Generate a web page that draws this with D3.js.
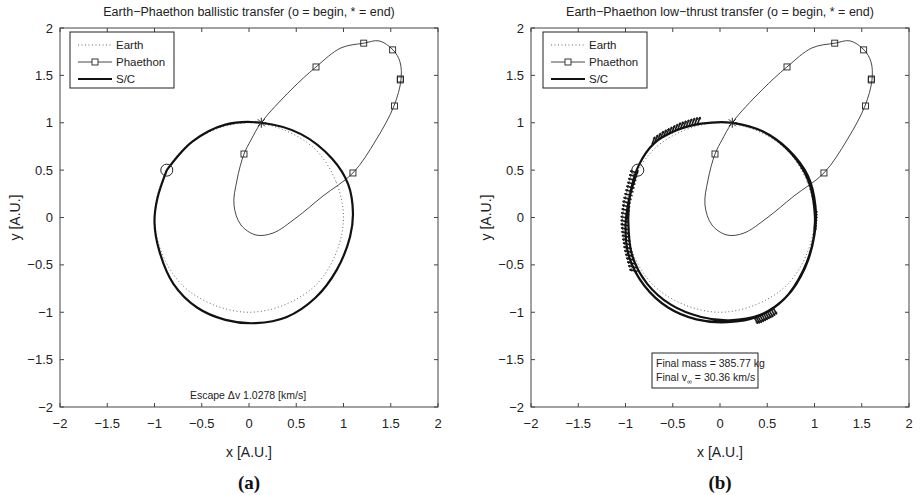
<!DOCTYPE html>
<html>
<head>
<meta charset="utf-8">
<script src="https://cdn.jsdelivr.net/npm/d3@7"></script>
<style>
  body { margin: 0; background: #fff; }
  svg text { font-family: "Liberation Sans", Arial, sans-serif; fill: #222; }
</style>
</head>
<body>
<svg id="chart" width="920" height="495"></svg>
<script>
// ---- data (A.U.) ----
var ticks = [-2, -1.5, -1, -0.5, 0, 0.5, 1, 1.5, 2];

// Earth orbit (dotted)
var earth = [[1, 0], [0.92, 0.38], [0.71, 0.71], [0.38, 0.92], [0, 1], [-0.38, 0.92], [-0.71, 0.71],
  [-0.92, 0.38], [-1, 0], [-0.92, -0.38], [-0.71, -0.71], [-0.38, -0.92], [0, -1], [0.38, -0.92],
  [0.71, -0.71], [0.92, -0.38]];

// Phaethon orbit
var phaethon = [[0.127, 0.998], [0.021, 0.818], [-0.053, 0.67], [-0.127, 0.396], [-0.159, 0.132],
  [-0.085, -0.079], [0.074, -0.185], [0.254, -0.164], [0.497, -0.005], [0.783, 0.227], [1.1, 0.47],
  [1.344, 0.818], [1.534, 1.177], [1.608, 1.452], [1.598, 1.642], [1.524, 1.769], [1.376, 1.864],
  [1.217, 1.84], [0.974, 1.79], [0.709, 1.589], [0.444, 1.346]];
var phaethonMarks = [[-0.053, 0.67], [0.709, 1.589], [1.214, 1.84], [1.52, 1.769], [1.6, 1.452],
  [1.603, 1.462], [1.54, 1.177], [1.1, 0.47]];

// spacecraft, ballistic case
var scBallistic = [[-0.87, 0.5], [-0.97, 0.2], [-1.0, -0.05], [-0.95, -0.35], [-0.8, -0.7], [-0.55, -0.95],
  [-0.25, -1.08], [0.07, -1.115], [0.4, -1.05], [0.7, -0.85], [0.93, -0.55], [1.07, -0.2], [1.1, 0.05],
  [1.05, 0.35], [0.88, 0.62], [0.55, 0.88], [0.13, 1.0], [-0.25, 0.98], [-0.6, 0.8], [-0.87, 0.5]];

// spacecraft, low-thrust case (two revolutions)
var scThrust = [[-0.87, 0.5], [-0.96, 0.2], [-1.0, -0.1], [-0.96, -0.42], [-0.8, -0.72], [-0.55, -0.95],
  [-0.25, -1.075], [0.08, -1.105], [0.4, -1.045], [0.68, -0.86], [0.88, -0.56], [0.99, -0.22],
  [1.0, 0.08], [0.93, 0.4], [0.75, 0.68], [0.47, 0.9], [0.13, 1.0], [-0.2, 0.99], [-0.46, 0.92],
  [-0.7, 0.78], [-0.86, 0.55], [-0.95, 0.25], [-0.97, -0.05], [-0.93, -0.4], [-0.77, -0.7], [-0.52, -0.92],
  [-0.2, -1.05], [0.1, -1.085], [0.42, -1.03], [0.7, -0.84], [0.9, -0.53], [1.0, -0.18], [1.01, 0.12],
  [0.93, 0.44], [0.72, 0.72], [0.45, 0.91], [0.13, 1.0]];

// thrust arcs: base points and arrow vector
var thrustTop = [[-0.72, 0.77], [-0.69, 0.79], [-0.66, 0.81], [-0.63, 0.83], [-0.6, 0.845], [-0.57, 0.86],
  [-0.54, 0.875], [-0.51, 0.89], [-0.48, 0.905], [-0.45, 0.92], [-0.42, 0.93], [-0.39, 0.94],
  [-0.36, 0.95], [-0.33, 0.96], [-0.3, 0.968], [-0.27, 0.975], [-0.24, 0.98]];
var thrustLeft = [[-0.865, 0.47], [-0.875, 0.43], [-0.885, 0.39], [-0.895, 0.35], [-0.905, 0.31],
  [-0.915, 0.27], [-0.925, 0.23], [-0.935, 0.19], [-0.945, 0.15], [-0.95, 0.11], [-0.955, 0.07],
  [-0.96, 0.03], [-0.965, -0.01], [-0.965, -0.05], [-0.965, -0.09], [-0.962, -0.13], [-0.958, -0.17],
  [-0.953, -0.21], [-0.948, -0.25], [-0.942, -0.29], [-0.935, -0.33], [-0.927, -0.37], [-0.918, -0.41],
  [-0.908, -0.45], [-0.897, -0.49], [-0.885, -0.53], [-0.872, -0.57]];
var thrustBottom = [[0.36, -1.05], [0.38, -1.045], [0.4, -1.04], [0.42, -1.03], [0.44, -1.02], [0.46, -1.01],
  [0.48, -1.0], [0.5, -0.99], [0.52, -0.98], [0.54, -0.965], [0.56, -0.95]];
var thrustRight = [[1.0, 0.06], [1.0, 0.03], [1.0, 0.0], [0.998, -0.03], [0.995, -0.06], [0.992, -0.09],
  [0.99, -0.12]];
var thrustArcs = [
  { pts: thrustTop, v: [0.03, 0.08] },
  { pts: thrustLeft, v: [-0.085, 0.02] },
  { pts: thrustBottom, v: [0.04, -0.07] },
  { pts: thrustRight, v: [0.03, 0.0] }
];

var beginPt = [-0.87, 0.5];
var endPt = [0.13, 1.0];

var svg = d3.select("#chart");
var fmt = d => (d < 0 ? "\u2212" : "") + Math.abs(d);

function drawPanel(opt) {
  var x = d3.scaleLinear().domain([-2, 2]).range([opt.x0, opt.x0 + 378]);
  var y = d3.scaleLinear().domain([-2, 2]).range([407, 28]);
  var g = svg.append("g");
  var line = d3.line().x(d => x(d[0])).y(d => y(d[1]));

  // frame
  g.append("rect").attr("x", x(-2)).attr("y", y(2)).attr("width", x(2) - x(-2)).attr("height", y(-2) - y(2))
    .attr("fill", "none").attr("stroke", "#444").attr("stroke-width", 1);

  // ticks inside, on all sides
  ticks.forEach(function (t) {
    g.append("line").attr("x1", x(t)).attr("x2", x(t)).attr("y1", y(-2)).attr("y2", y(-2) - 4).attr("stroke", "#444");
    g.append("line").attr("x1", x(t)).attr("x2", x(t)).attr("y1", y(2)).attr("y2", y(2) + 4).attr("stroke", "#444");
    g.append("line").attr("y1", y(t)).attr("y2", y(t)).attr("x1", x(-2)).attr("x2", x(-2) + 4).attr("stroke", "#444");
    g.append("line").attr("y1", y(t)).attr("y2", y(t)).attr("x1", x(2)).attr("x2", x(2) - 4).attr("stroke", "#444");
    g.append("text").attr("x", x(t)).attr("y", 428).attr("text-anchor", "middle")
      .attr("font-size", 13).text(fmt(t));
    g.append("text").attr("x", x(-2) - 7).attr("y", y(t) + 4.5).attr("text-anchor", "end")
      .attr("font-size", 13).text(fmt(t));
  });

  g.append("text").attr("x", (x(-2) + x(2)) / 2).attr("y", 457).attr("text-anchor", "middle")
    .attr("font-size", 14).text("x [A.U.]");
  g.append("text").attr("transform", "translate(" + (x(-2) - 40) + "," + y(0) + ") rotate(-90)")
    .attr("text-anchor", "middle").attr("font-size", 14).text("y [A.U.]");
  g.append("text").attr("x", (x(-2) + x(2)) / 2).attr("y", 16).attr("text-anchor", "middle")
    .attr("font-size", 12.5).text(opt.title);
  g.append("text").attr("x", (x(-2) + x(2)) / 2).attr("y", 489).attr("text-anchor", "middle")
    .attr("font-size", 19).attr("font-weight", "bold")
    .style("font-family", "'Liberation Serif', 'Times New Roman', serif").style("fill", "#111")
    .text(opt.label);

  // Earth orbit
  g.append("path").datum(earth).attr("d", line.curve(d3.curveCatmullRomClosed))
    .attr("fill", "none").attr("stroke", "#666").attr("stroke-width", 1).attr("stroke-dasharray", "1,2.5");

  // Phaethon orbit
  g.append("path").datum(phaethon).attr("d", line.curve(d3.curveCatmullRomClosed))
    .attr("fill", "none").attr("stroke", "#333").attr("stroke-width", 0.9);
  g.selectAll(".pm").data(phaethonMarks).join("rect")
    .attr("x", d => x(d[0]) - 3).attr("y", d => y(d[1]) - 3).attr("width", 6).attr("height", 6)
    .attr("fill", "none").attr("stroke", "#222").attr("stroke-width", 0.9);

  // thrust arrows
  if (opt.thrust) {
    opt.thrust.forEach(function (arc) {
      arc.pts.forEach(function (p) {
        var x1 = x(p[0]), y1 = y(p[1]);
        var x2 = x(p[0] + arc.v[0]), y2 = y(p[1] + arc.v[1]);
        g.append("line").attr("x1", x1).attr("y1", y1).attr("x2", x2).attr("y2", y2)
          .attr("stroke", "#1a1a1a").attr("stroke-width", 1.6);
        var a = Math.atan2(y2 - y1, x2 - x1);
        [a + 2.6, a - 2.6].forEach(function (b) {
          g.append("line").attr("x1", x2).attr("y1", y2)
            .attr("x2", x2 + 2.5 * Math.cos(b)).attr("y2", y2 + 2.5 * Math.sin(b))
            .attr("stroke", "#1a1a1a").attr("stroke-width", 1);
        });
      });
    });
  }

  // spacecraft trajectory
  g.append("path").datum(opt.sc).attr("d", line.curve(d3.curveCatmullRom))
    .attr("fill", "none").attr("stroke", "#111").attr("stroke-width", 2.2);

  // begin / end markers
  g.append("circle").attr("cx", x(beginPt[0])).attr("cy", y(beginPt[1])).attr("r", 6)
    .attr("fill", "none").attr("stroke", "#222").attr("stroke-width", 1);
  var sx = x(endPt[0]), sy = y(endPt[1]), s = 5;
  [[s, 0], [0, s], [s * 0.7, s * 0.7], [s * 0.7, -s * 0.7]].forEach(function (d) {
    g.append("line").attr("x1", sx - d[0]).attr("y1", sy - d[1]).attr("x2", sx + d[0]).attr("y2", sy + d[1])
      .attr("stroke", "#222").attr("stroke-width", 1);
  });

  // legend
  var lx = opt.legendX, ly = 32;
  g.append("rect").attr("x", lx).attr("y", ly).attr("width", 104).attr("height", 56)
    .attr("fill", "#fff").attr("stroke", "#222").attr("stroke-width", 1);
  var items = [
    { name: "Earth", dash: "1,2.5", w: 1, c: "#666" },
    { name: "Phaethon", dash: null, w: 0.9, c: "#333", mark: true },
    { name: "S/C", dash: null, w: 2.2, c: "#111" }
  ];
  items.forEach(function (it, i) {
    var yy = ly + 13 + i * 17;
    g.append("line").attr("x1", lx + 8).attr("x2", lx + 42).attr("y1", yy).attr("y2", yy)
      .attr("stroke", it.c).attr("stroke-width", it.w).attr("stroke-dasharray", it.dash);
    if (it.mark) {
      g.append("rect").attr("x", lx + 22).attr("y", yy - 3).attr("width", 6).attr("height", 6)
        .attr("fill", "#fff").attr("stroke", "#222").attr("stroke-width", 0.9);
    }
    g.append("text").attr("x", lx + 46).attr("y", yy + 4).attr("font-size", 11.5).text(it.name);
  });

  return { g: g, x: x, y: y };
}

var pa = drawPanel({ x0: 60, title: "Earth\u2212Phaethon ballistic transfer (o = begin, * = end)",
  label: "(a)", sc: scBallistic, legendX: 70 });
pa.g.append("text").attr("x", 248).attr("y", 399).attr("text-anchor", "middle")
  .attr("font-size", 10.5).text("Escape \u0394v 1.0278 [km/s]");

var pb = drawPanel({ x0: 531, title: "Earth\u2212Phaethon low\u2212thrust transfer (o = begin, * = end)",
  label: "(b)", sc: scThrust, thrust: thrustArcs, legendX: 543 });
pb.g.append("rect").attr("x", 652).attr("y", 353).attr("width", 106).attr("height", 35)
  .attr("fill", "#fff").attr("stroke", "#222").attr("stroke-width", 1);
pb.g.append("text").attr("x", 656).attr("y", 367).attr("font-size", 10.5).text("Final mass = 385.77 kg");
var t2 = pb.g.append("text").attr("x", 656).attr("y", 381).attr("font-size", 10.5);
t2.append("tspan").text("Final v");
t2.append("tspan").attr("dy", 3).attr("font-size", 7).text("\u221e");
t2.append("tspan").attr("dy", -3).text(" = 30.36 km/s");
</script>
</body>
</html>
